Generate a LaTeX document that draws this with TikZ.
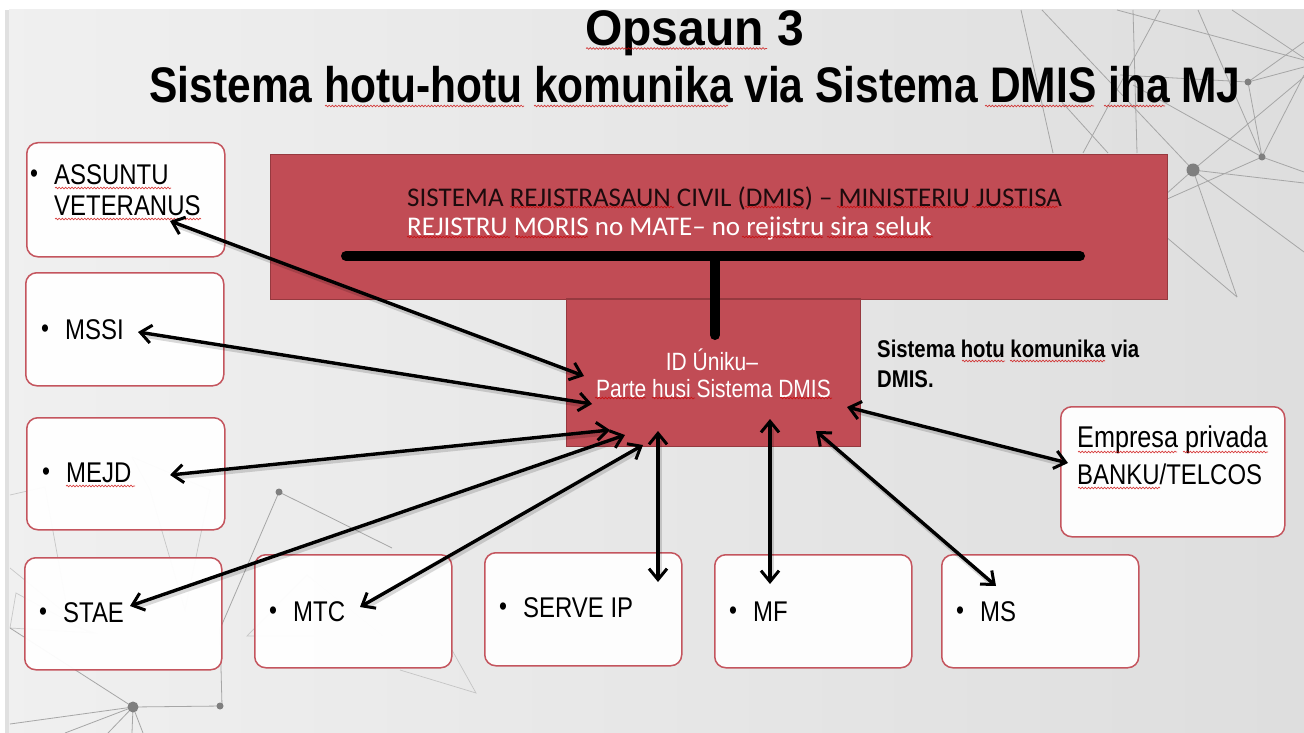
\documentclass[tikz,border=0pt]{standalone}
\usepackage{fontspec}
\setmainfont{Liberation Sans}[FakeStretch=0.84]
\newfontfamily\redfont{Carlito}
\newfontfamily\titleA{Liberation Sans Bold}[FakeStretch=0.96]
\newfontfamily\titleB{Liberation Sans Bold}[FakeStretch=0.85]
\usetikzlibrary{decorations.pathmorphing,arrows.meta}
\definecolor{brick}{HTML}{C14C55}
\definecolor{brickdark}{HTML}{96393F}
\definecolor{boxline}{HTML}{C4555E}
\definecolor{netline}{HTML}{A6A6A6}
\definecolor{netdot}{HTML}{7F7F7F}
\tikzset{
  x=1pt,y=-1pt,
  orgbox/.style={draw=boxline,line width=1.5pt,rounded corners=11pt,fill=white,fill opacity=.95},
  redblock/.style={draw=brickdark,line width=1.2pt,fill=brick},
  orglabel/.style={anchor=west,font=\fontsize{28.5}{32}\selectfont,text=black,inner sep=0pt,align=left},
  emplabel/.style={anchor=west,font=\fontsize{30}{32}\selectfont,text=black,inner sep=0pt,align=left},
  bul/.style={anchor=center,font=\fontsize{27}{27}\selectfont,inner sep=0pt},
  twohead/.style={draw=black,line width=3.4pt,{Straight Barb[length=11pt,width=18pt,line width=3pt]}-{Straight Barb[length=11pt,width=18pt,line width=3pt]}},
  arrowshade/.style={draw=black,opacity=.15,line width=5pt,shorten >=7pt,shorten <=7pt},
  busbar/.style={draw=black,line width=10pt,line cap=round},
  net/.style={draw=netline,line width=.8pt},
  netf/.style={draw=netline,line width=.7pt,opacity=.55},
  squig/.style={draw=red!80!black,line width=.7pt,opacity=.75,decorate,decoration={snake,amplitude=.8pt,segment length=3.2pt}},
  titlebase/.style={anchor=base,inner sep=0pt,text=black},
}
\newcommand{\sq}[3]{\draw[squig] (#1,#3) -- (#2,#3);}
\begin{document}
\begin{tikzpicture}
\useasboundingbox (0,0) rectangle (1304,733);
\fill[white] (0,0) rectangle (1304,733);
\shade[left color=black!6,right color=black!13] (9,10) rectangle (1304,733);
\fill[black!12] (5,10) rectangle (9,733);
% network, top right
\draw[net] (1021,10) -- (1053,153);
\draw[net] (1042,10) -- (1193,170);
\draw[net] (1117,10) -- (1304,60);
\draw[net] (1133,10) -- (1137,153);
\draw[net] (1160,10) -- (1133,60) -- (1083,153);
\draw[net] (1198,10) -- (1262,157);
\draw[net] (1232,10) -- (1304,58);
\draw[net] (1120,75) -- (1248,82);
\draw[net] (1133,85) -- (1262,157);
\draw[net] (1060,100) -- (1108,153);
\draw[net] (1193,170) -- (1304,77);
\draw[net] (1193,170) -- (1304,183);
\draw[net] (1193,170) -- (1304,252);
\draw[net] (1193,170) -- (1237,297);
\draw[net] (1165,236) -- (1237,297);
\draw[net] (1165,200) -- (1262,157);
\draw[net] (1193,170) -- (1165,195);
\draw[net] (1262,157) -- (1304,172);
\draw[net] (1262,157) -- (1248,82);
\draw[net] (1262,157) -- (1304,75);
\draw[net] (1248,82) -- (1304,67);
\draw[net] (1248,82) -- (1304,42);
\fill[netdot] (1193,170) circle (6.5pt);
\fill[netdot] (1262,157) circle (3.5pt);
\fill[netdot] (1248,82) circle (3.5pt);
% network, bottom left
\draw[net] (279,492) -- (392,548);
\draw[net] (279,492) -- (220,629) -- (222,706);
\draw[net] (133,707) -- (222,706);
\draw[net] (133,707) -- (10,628);
\draw[net] (133,707) -- (10,724);
\draw[net] (133,707) -- (65,733);
\draw[net] (133,707) -- (108,733);
\draw[net] (133,707) -- (132,733);
\draw[net] (133,707) -- (143,733);
\draw[netf] (400,670) -- (476,693) -- (452,650);
\draw[netf] (247,636) -- (307,575) -- (383,636) -- cycle;
\draw[netf] (10,495) -- (45,487) -- (70,625) -- (95,633) -- (10,628) -- (16,593) -- (90,633);
\draw[netf] (132,457) -- (210,490) -- (185,610) -- (150,490) -- (132,457);
\draw[netf] (10,568) -- (80,625);
\fill[netdot] (279,492) circle (3.5pt);
\fill[netdot] (133,707) circle (5.5pt);
\fill[netdot] (220,706) circle (3.5pt);
% red blocks
\node[redblock,anchor=north west,inner sep=0pt] (reg) at (270,154) {\rule{0pt}{145pt}\rule{897pt}{0pt}};
\node[redblock,anchor=north west,inner sep=0pt] (idu) at (566,299) {\rule{0pt}{147pt}\rule{294pt}{0pt}};
\draw[brickdark,line width=2.5pt] (idu.north west) -- (idu.north east);
% bus
\coordinate (busl) at (346,256);
\coordinate (busr) at (1080,256);
\coordinate (busj) at (715,256);
\coordinate (busd) at (715,335);
\draw[busbar] (busl) -- (busr);
\draw[busbar] (busj) -- (busd);
% org boxes
\newcommand{\orgb}[5]{\node[orgbox,anchor=north west,inner sep=0pt,minimum width=#3pt,minimum height=#4pt] (#5) at (#1,#2) {};}
\orgb{26}{142}{198}{114}{assuntu}
\orgb{25}{272}{198}{113}{mssi}
\orgb{26}{417}{198}{112}{mejd}
\orgb{24}{557}{197}{112}{stae}
\orgb{254}{554}{197}{113}{mtc}
\orgb{484}{552}{197}{113}{serve}
\orgb{714}{554}{197}{113}{mf}
\orgb{941}{554}{197}{113}{ms}
\orgb{1060}{406}{224}{130}{emp}
% texts
\node[titlebase,font=\titleA\fontsize{50}{52}\selectfont] (t1) at (694.5,46) {Opsaun 3};
\node[titlebase,font=\titleB\fontsize{50}{52}\selectfont] (t2) at (695,103) {Sistema hotu-hotu komunika via Sistema DMIS iha MJ};
\node[anchor=west,inner sep=0pt,font=\redfont\fontsize{27}{30}\selectfont,text=black!85!brick,align=left] (r1) at (407,198) {SISTEMA REJISTRASAUN CIVIL (DMIS) – MINISTERIU JUSTISA};
\node[anchor=west,inner sep=0pt,font=\redfont\fontsize{27}{30}\selectfont,text=white,align=left] (r2) at (407,228) {REJISTRU MORIS no MATE– no rejistru sira seluk};
\node[anchor=center,inner sep=0pt,font=\fontsize{25}{26}\selectfont,text=white] (i1) at (712,360) {ID Úniku–};
\node[anchor=center,inner sep=0pt,font=\fontsize{25}{26}\selectfont,text=white] (i2) at (713.5,389) {Parte husi Sistema DMIS};
\node[anchor=west,inner sep=0pt,font=\bfseries\fontsize{24.2}{30}\selectfont,text=black] (s1) at (877,349) {Sistema hotu komunika via};
\node[anchor=west,inner sep=0pt,font=\bfseries\fontsize{24.2}{30}\selectfont,text=black] (s2) at (877,379) {DMIS.};
\node[bul] (ba) at (34,176) {•};
\node[orglabel] (la1) at (54,175) {ASSUNTU};
\node[orglabel] (la2) at (54,206) {VETERANUS};
\node[bul] (bb) at (45,331) {•};
\node[orglabel] (lb) at (65,330) {MSSI};
\node[bul] (bc) at (46,474) {•};
\node[orglabel] (lc) at (66,473) {MEJD};
\node[bul] (bd) at (43,614) {•};
\node[orglabel] (ld) at (63,613) {STAE};
\node[bul] (be) at (273,613) {•};
\node[orglabel] (le) at (293,612) {MTC};
\node[bul] (bf) at (503,609) {•};
\node[orglabel] (lf) at (523,608) {SERVE IP};
\node[bul] (bg) at (733,613) {•};
\node[orglabel] (lg) at (753,612) {MF};
\node[bul] (bh) at (960,613) {•};
\node[orglabel] (lh) at (980,612) {MS};
\node[emplabel] (lj1) at (1077,440) {Empresa privada};
\node[orglabel] (lj2) at (1077,474) {BANKU/TELCOS};
% spellcheck squiggles
\sq{586}{767}{48.5}\sq{325}{524}{106}\sq{534}{728}{106}\sq{985}{1094}{106}\sq{1104}{1165}{106}
\sq{55}{171}{188}\sq{55}{201}{219}\sq{66}{135}{486}
\sq{1078}{1177}{452}\sq{1183}{1268}{452}\sq{1078}{1160}{488}
\sq{510}{674}{207}\sq{745}{804}{207}\sq{837}{967}{207}\sq{972}{1058}{207}
\sq{407}{510}{237}\sq{515}{588}{237}\sq{742}{823}{237}\sq{827}{868}{237}\sq{873}{933}{237}
\sq{595}{646}{398}\sq{652}{695}{398}\sq{780}{832}{398}
\sq{962}{1005}{361}\sq{1010}{1105}{361}
% connector ends
\coordinate (c1a) at (170,221); \coordinate (c1b) at (584,376);
\coordinate (c2a) at (138,332); \coordinate (c2b) at (592,404);
\coordinate (c3a) at (170,475); \coordinate (c3b) at (610,430);
\coordinate (c4a) at (130,606); \coordinate (c4b) at (625,435);
\coordinate (c5a) at (360,607); \coordinate (c5b) at (643,445);
\coordinate (c6a) at (658,431); \coordinate (c6b) at (658,582);
\coordinate (c7a) at (770,419); \coordinate (c7b) at (770,584);
\coordinate (c8a) at (816,431); \coordinate (c8b) at (996,586);
\coordinate (c9a) at (847,407); \coordinate (c9b) at (1068,463);
\foreach \i in {1,...,9}{
  \draw[arrowshade,transform canvas={shift={(1.5pt,-2.5pt)}}] (c\i a) -- (c\i b);
}
\foreach \i in {1,...,9}{
  \draw[twohead] (c\i a) -- (c\i b);
}
\end{tikzpicture}
\end{document}
